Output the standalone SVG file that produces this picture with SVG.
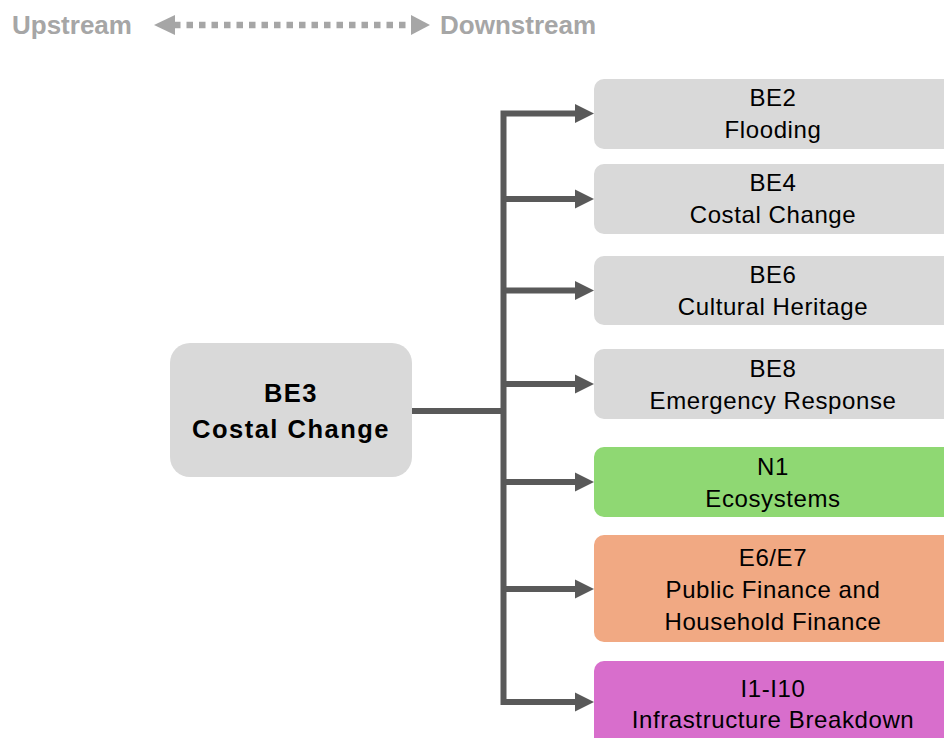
<svg xmlns="http://www.w3.org/2000/svg" width="944" height="738" viewBox="0 0 944 738">
  <style>
    .hdr { font-family: "Liberation Sans", Arial, sans-serif; font-weight: bold; font-size: 26px; fill: #a6a6a6; }
    .lbl { font-family: "Liberation Sans", Arial, sans-serif; font-size: 24px; fill: #000; text-anchor: middle; letter-spacing: 0.6px; }
    .main { font-family: "Liberation Sans", Arial, sans-serif; font-weight: bold; font-size: 25.5px; fill: #000; text-anchor: middle; letter-spacing: 1.5px; }
    .conn { fill: none; stroke: #595959; stroke-width: 6; stroke-linejoin: miter; }
    .grey { fill: #d9d9d9; }
    .green { fill: #8fd873; }
    .orange { fill: #f1a983; }
    .pink { fill: #d86ecc; }
  </style>
  <defs>
    <marker id="arrow" markerUnits="userSpaceOnUse" viewBox="0 0 20 20" markerWidth="20" markerHeight="20" refX="5" refY="10" orient="auto">
      <path d="M0,0.5 L19,10 L0,19.5 z" fill="#595959"/>
    </marker>
  </defs>

  <!-- direction legend -->
  <g id="legend">
    <text class="hdr" x="12" y="34">Upstream</text>
    <line x1="174" y1="25" x2="412" y2="25" stroke="#a6a6a6" stroke-width="6.5" stroke-dasharray="6.5 6"/>
    <polygon points="154,25 175,15 175,35" fill="#a6a6a6"/>
    <polygon points="411,15 430,25 411,35" fill="#a6a6a6"/>
    <text class="hdr" x="440" y="34">Downstream</text>
  </g>

  <!-- connectors -->
  <g id="connectors">
    <path class="conn" d="M412,411 H503.5"/>
    <path class="conn" d="M503.5,411 V113.5 H580" marker-end="url(#arrow)"/>
    <path class="conn" d="M503.5,411 V702 H580" marker-end="url(#arrow)"/>
    <path class="conn" d="M503.5,199 H580" marker-end="url(#arrow)"/>
    <path class="conn" d="M503.5,290.5 H580" marker-end="url(#arrow)"/>
    <path class="conn" d="M503.5,384 H580" marker-end="url(#arrow)"/>
    <path class="conn" d="M503.5,482 H580" marker-end="url(#arrow)"/>
    <path class="conn" d="M503.5,589 H580" marker-end="url(#arrow)"/>
  </g>

  <!-- source node -->
  <g id="be3">
    <rect class="grey" x="170" y="343" width="242" height="134" rx="20"/>
    <text class="main" x="291" y="402">BE3</text>
    <text class="main" x="291" y="438">Costal Change</text>
  </g>

  <!-- downstream nodes -->
  <g id="be2">
    <rect class="grey" x="594" y="79" width="380" height="70" rx="10"/>
    <text class="lbl" x="773" y="106">BE2</text>
    <text class="lbl" x="773" y="138">Flooding</text>
  </g>
  <g id="be4">
    <rect class="grey" x="594" y="164" width="380" height="70" rx="10"/>
    <text class="lbl" x="773" y="191">BE4</text>
    <text class="lbl" x="773" y="223">Costal Change</text>
  </g>
  <g id="be6">
    <rect class="grey" x="594" y="256" width="380" height="69" rx="10"/>
    <text class="lbl" x="773" y="283">BE6</text>
    <text class="lbl" x="773" y="315">Cultural Heritage</text>
  </g>
  <g id="be8">
    <rect class="grey" x="594" y="349" width="380" height="70" rx="10"/>
    <text class="lbl" x="773" y="377">BE8</text>
    <text class="lbl" x="773" y="409">Emergency Response</text>
  </g>
  <g id="n1">
    <rect class="green" x="594" y="447" width="380" height="70" rx="10"/>
    <text class="lbl" x="773" y="475">N1</text>
    <text class="lbl" x="773" y="507">Ecosystems</text>
  </g>
  <g id="e6e7">
    <rect class="orange" x="594" y="535" width="380" height="107" rx="10"/>
    <text class="lbl" x="773" y="566">E6/E7</text>
    <text class="lbl" x="773" y="598">Public Finance and</text>
    <text class="lbl" x="773" y="630">Household Finance</text>
  </g>
  <g id="i1i10">
    <rect class="pink" x="594" y="661" width="380" height="100" rx="10"/>
    <text class="lbl" x="773" y="697">I1-I10</text>
    <text class="lbl" x="773" y="728">Infrastructure Breakdown</text>
  </g>
</svg>
